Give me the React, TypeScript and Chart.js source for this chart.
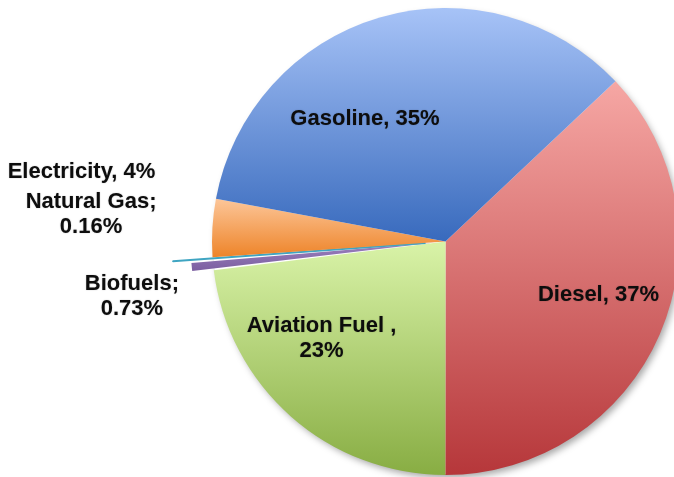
import React, { useEffect, useRef } from "react";
import { Chart, registerables } from "chart.js";

Chart.register(...registerables);

// ---- data ----
const categories = ["Diesel", "Aviation Fuel", "Biofuels", "Natural Gas", "Electricity", "Gasoline"];
const shares = [37, 23, 0.73, 0.16, 4, 35];
const labelLines = [
  ["Diesel, 37%"],
  ["Aviation Fuel ,", "23%"],
  ["Biofuels;", "0.73%"],
  ["Natural Gas;", "0.16%"],
  ["Electricity, 4%"],
  ["Gasoline, 35%"],
];

// ---- styles ----
const lightColors = ["#f6a7a4", "#d9f3a8", "#9a80bd", "#5cc2dc", "#fcc699", "#a7c3f7"];
const darkColors = ["#b6373a", "#88ad43", "#7a5d9f", "#3fa5c2", "#ee8429", "#386abd"];
const sliceOffsets = [0, 0, 44, 80, 0, 0];
const sliceBorders = [0, 0, 0, 2, 0, 0];
const labelPos = [
  [0.655, 0.229],
  [-0.531, 0.415],
  [-1.343, 0.236],
  [-1.518, -0.118],
  [-1.559, -0.298],
  [-0.345, -0.525],
];
const ROTATION = 46.7;
const MAX_OFFSET = Math.max(...sliceOffsets);
const MAX_BORDER = Math.max(...sliceBorders);
const LABEL_FONT = 'bold 22px "Liberation Sans", Arial, sans-serif';

function pieGeometry(chart: any) {
  const a = chart.chartArea;
  const cx = (a.left + a.right) / 2;
  const cy = (a.top + a.bottom) / 2;
  const r = (Math.min(a.right - a.left, a.bottom - a.top) - MAX_OFFSET - MAX_BORDER) / 2;
  return { cx, cy, r };
}

function sliceBounds(chart: any, i: number) {
  const { cx, cy, r } = pieGeometry(chart);
  const total = shares.reduce((s, v) => s + v, 0);
  let start = (ROTATION - 90) * Math.PI / 180;
  for (let j = 0; j < i; j++) start += (shares[j] / total) * Math.PI * 2;
  const end = start + (shares[i] / total) * Math.PI * 2;
  const mid = (start + end) / 2;
  const oy = Math.sin(mid) * sliceOffsets[i] / 4;
  const ys = [cy, cy + r * Math.sin(start), cy + r * Math.sin(end)];
  const contains = (t: number) => {
    while (t < start) t += Math.PI * 2;
    return t <= end;
  };
  if (contains(-Math.PI / 2)) ys.push(cy - r);
  if (contains(Math.PI / 2)) ys.push(cy + r);
  return { top: Math.min(...ys) + oy, bottom: Math.max(...ys) + oy };
}

const shadowPlugin = {
  id: "pieShadow",
  beforeDatasetsDraw(chart: any) {
    const { cx, cy, r } = pieGeometry(chart);
    const ctx = chart.ctx;
    ctx.save();
    ctx.shadowColor = "rgba(0,0,0,0.35)";
    ctx.shadowBlur = 7;
    ctx.shadowOffsetX = 3;
    ctx.shadowOffsetY = 4;
    ctx.fillStyle = "#ffffff";
    ctx.beginPath();
    ctx.arc(cx, cy, r - 1, 0, Math.PI * 2);
    ctx.fill();
    ctx.restore();
  },
};

const labelPlugin = {
  id: "sliceLabels",
  afterDatasetsDraw(chart: any) {
    const { cx, cy, r } = pieGeometry(chart);
    const ctx = chart.ctx;
    ctx.save();
    ctx.font = LABEL_FONT;
    ctx.fillStyle = "#0d0d0d";
    ctx.textAlign = "center";
    ctx.textBaseline = "middle";
    ctx.shadowColor = "rgba(0,0,0,0.25)";
    ctx.shadowBlur = 1.5;
    const lh = 25;
    labelLines.forEach((lines, i) => {
      const x = cx + labelPos[i][0] * r;
      const y = cy + labelPos[i][1] * r;
      const y0 = y - ((lines.length - 1) * lh) / 2;
      lines.forEach((t, k) => ctx.fillText(t, x, y0 + k * lh));
    });
    ctx.restore();
  },
};

export default function App() {
  const ref = useRef<HTMLCanvasElement>(null);
  useEffect(() => {
    if (!ref.current) return;
    const chart = new Chart(ref.current, {
      type: "pie",
      data: {
        labels: categories,
        datasets: [
          {
            data: shares,
            borderWidth: sliceBorders,
            borderColor: darkColors,
            hoverOffset: 0,
            offset: sliceOffsets,
            backgroundColor: (ctx: any) => {
              const i = ctx.dataIndex ?? 0;
              const chart = ctx.chart;
              if (!chart.chartArea) return lightColors[i];
              const b = sliceBounds(chart, i);
              const g = chart.ctx.createLinearGradient(0, b.top, 0, Math.max(b.bottom, b.top + 1));
              g.addColorStop(0, lightColors[i]);
              g.addColorStop(1, darkColors[i]);
              return g;
            },
          },
        ],
      },
      options: {
        responsive: false,
        animation: false,
        rotation: ROTATION,
        layout: { padding: { left: 171, top: 7, right: 20, bottom: 14 } },
        plugins: {
          legend: { display: false },
          tooltip: { enabled: false },
        },
      },
      plugins: [shadowPlugin, labelPlugin],
    });
    return () => chart.destroy();
  }, []);
  return (
    <div style={{ position: "fixed", left: 0, top: 0, width: 674, height: 477, overflow: "hidden", background: "#fff" }}>
      <canvas ref={ref} width={740} height={570} style={{ position: "absolute", left: 0, top: -40, width: 740, height: 570 }} />
    </div>
  );
}
